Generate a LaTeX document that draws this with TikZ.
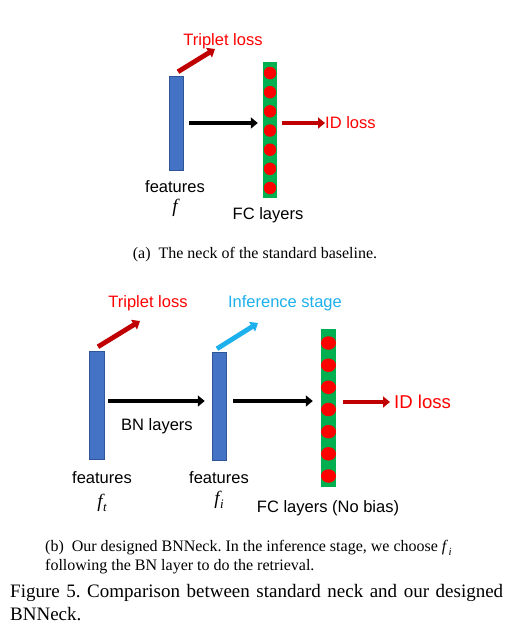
\documentclass[tikz,border=0pt]{standalone}
\usepackage{fontspec}
\setmainfont{Liberation Serif}
\newfontfamily\sansf{Liberation Sans}
\usetikzlibrary{arrows.meta,shapes.geometric}
\definecolor{barblue}{HTML}{4472C4}
\definecolor{barline}{HTML}{2F5597}
\definecolor{fcgreen}{HTML}{00B050}
\definecolor{dotred}{HTML}{FF0000}
\definecolor{darkred}{HTML}{C00000}
\definecolor{txtred}{HTML}{FF0000}
\definecolor{lblue}{HTML}{1CB0EC}
\frenchspacing
\begin{document}
\begin{tikzpicture}[x=1pt,y=-1pt,
  featbar/.style={rectangle, fill=barblue, draw=barline, line width=0.5pt, inner sep=0pt, minimum width=14pt},
  fcbar/.style={rectangle, fill=fcgreen, inner sep=0pt, minimum width=14pt},
  dotnode/.style={ellipse, fill=dotred, inner sep=0pt},
  lbl/.style={font=\sansf\fontsize{16.5}{19}\selectfont, inner sep=0pt},
  fsym/.style={font=\itshape\fontsize{19}{22}\selectfont, inner sep=0pt},
  blkarrow/.style={line width=4.8pt, black, -{Triangle[length=7pt,width=11pt]}},
  redarrow/.style={line width=4.8pt, darkred, -{Triangle[length=7pt,width=11pt]}},
  bluearrow/.style={line width=4.8pt, lblue, -{Triangle[length=7pt,width=11pt]}},
  captxt/.style={font=\fontsize{16}{19}\selectfont, inner sep=0pt},
]
\useasboundingbox (0,0) rectangle (508,633);

% ---------- (a) ----------
\node[featbar, minimum height=94pt] (fa) at (176,123) {};
\node[fcbar, minimum height=136pt] (fca) at (270,130) {};
\foreach \i/\yy in {1/73,2/92.2,3/111.3,4/130.5,5/149.7,6/168.8,7/188}
  \node[dotnode, minimum width=12.5pt, minimum height=12.5pt] (da\i) at (270,\yy) {};
\node[lbl, text=txtred] (tla) at (223,41) {Triplet loss};
\coordinate (tlaend) at (215,49);
\draw[redarrow] ([xshift=2pt,yshift=4pt]fa.north) -- (tlaend);
\draw[blkarrow, shorten <=6pt, shorten >=5pt] (fa.east) -- (fa.east -| fca.west);
\node[lbl, text=txtred, anchor=west] (ida) at (325,123) {ID loss};
\draw[redarrow, shorten <=5pt] (fca.east |- ida.west) -- (ida.west);
\node[lbl] (feata) at (175,187) {features};
\node[fsym] (fsa) at (175,208) {f};
\node[lbl] (fcla) at (268,215) {FC layers};
\node[captxt] (capa) at (255,255) {(a)\hspace{0.5em}The neck of the standard baseline.};

% ---------- (b) ----------
\node[featbar, minimum width=15pt, minimum height=108pt] (ft) at (96.5,405) {};
\node[featbar, minimum height=108pt] (fi) at (219,406) {};
\node[fcbar, minimum width=15pt, minimum height=158pt] (fcb) at (328.5,408) {};
\foreach \i/\yy in {1/343,2/365.2,3/387.3,4/409.5,5/431.7,6/453.8,7/476}
  \node[dotnode, minimum width=15pt, minimum height=13.5pt] (db\i) at (328.5,\yy) {};
\node[lbl, text=txtred] (tlb) at (148,303) {Triplet loss};
\coordinate (tlbend) at (140,321);
\draw[redarrow] ([xshift=1.5pt,yshift=4pt]ft.north) -- (tlbend);
\node[lbl, text=lblue] (inf) at (285,303) {Inference stage};
\coordinate (infend) at (258,323);
\draw[bluearrow] ([xshift=-2pt,yshift=3pt]fi.north) -- (infend);
\coordinate (arrowy) at (0,401);
\draw[blkarrow, shorten <=4pt, shorten >=7pt] (ft.east |- arrowy) -- (fi.west |- arrowy);
\draw[blkarrow, shorten <=7pt, shorten >=8pt] (fi.east |- arrowy) -- (fcb.west |- arrowy);
\node[lbl, font=\sansf\fontsize{18.6}{21}\selectfont, text=txtred, anchor=west] (idb) at (394,402) {ID loss};
\draw[redarrow, shorten <=7pt, shorten >=4pt] (fcb.east |- idb.west) -- (idb.west);
\node[lbl] (bnl) at (157,426) {BN layers};
\node[lbl] (featt) at (102,478) {features};
\node[fsym] (fst) at (102,503) {f\kern0.5pt\raisebox{-0.2em}{\fontsize{13}{15}\selectfont t}};
\node[lbl] (feati) at (219,478) {features};
\node[fsym] (fsi) at (219,500) {f\kern0.5pt\raisebox{-0.2em}{\fontsize{13}{15}\selectfont i}};
\node[lbl] (fclb) at (328,508) {FC layers (No bias)};
\node[captxt, anchor=west, align=left] (capb) at (45,557.5)
  {(b)\hspace{0.5em}Our designed BNNeck. In the inference stage, we choose \textit{f}\kern0.5pt\raisebox{-0.2em}{\fontsize{11}{13}\selectfont\textit{i}}\\following the BN layer to do the retrieval.};

% ---------- Figure caption ----------
\node[font=\fontsize{19}{23}\selectfont, inner sep=0pt, text width=493pt, align=justify, anchor=north west] (figcap) at (10,584)
  {Figure 5. Comparison between standard neck and our designed BNNeck.};
\end{tikzpicture}
\end{document}
